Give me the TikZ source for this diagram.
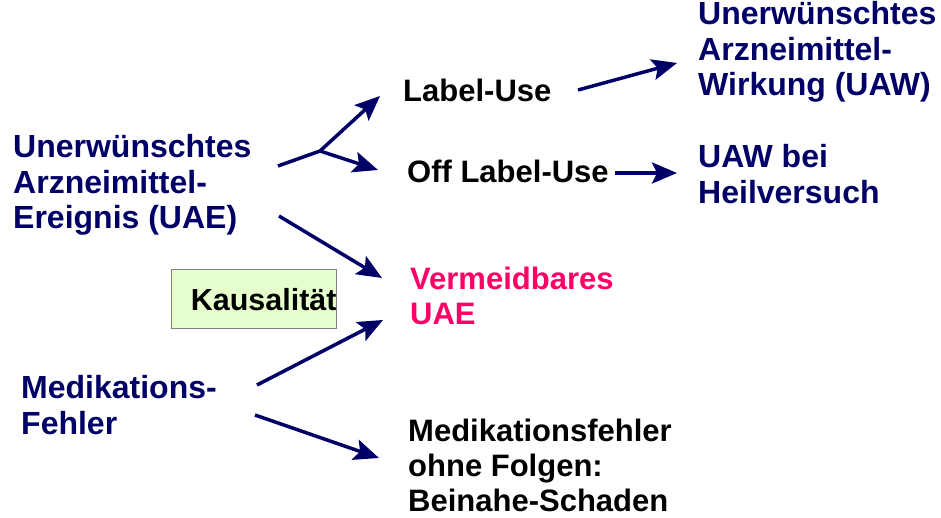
\documentclass[tikz,border=0pt]{standalone}
\usepackage{fontspec}
\setmainfont{Liberation Sans}
\usetikzlibrary{arrows.meta,calc}
\definecolor{navy}{RGB}{0,0,102}
\definecolor{rosa}{RGB}{255,0,102}
\definecolor{hellgruen}{RGB}{230,255,204}

\begin{document}
\begin{tikzpicture}[x=1pt,y=-1pt,
    every node/.style = {anchor=north west, inner sep=0pt, align=left,
      font=\bfseries\fontsize{31}{35}\selectfont},
    blau/.style = {text=navy, font=\bfseries\fontsize{32}{35.5}\selectfont},
    pfeil/.style = {draw=navy, line width=3.5pt, line join=round,
      -{Stealth[length=25pt,width=21pt,inset=5pt]}}]
  \useasboundingbox (0,0) rectangle (941,518);

  % Ursachen links
  \node[blau] (uae) at (13,134.6) {Unerwünschtes\\Arzneimittel-\\Ereignis (UAE)};
  \node[blau] (medfehler) at (21,375.6) {Medikations-\\Fehler};

  % mittlere Spalte
  \node (label) at (403,78.4) {Label-Use};
  \node (offlabel) at (407,159.4) {Off Label-Use};
  \node[text=rosa] (vermeidbar) at (410,266.4) {Vermeidbares\\UAE};
  \node (folgen) at (408,418.4) {Medikationsfehler\\ohne Folgen:\\Beinahe-Schaden};
  \node[draw=gray, line width=1.2pt, fill=hellgruen, text width=165pt,
    align=right, inner xsep=0pt, minimum height=59pt,
    font=\bfseries\fontsize{30.5}{34}\selectfont] (kausal) at (171,269) {Kausalität};

  % rechte Spalte
  \node[blau] (uaw) at (698,1.6) {Unerwünschtes\\Arzneimittel-\\Wirkung (UAW)};
  \node[blau] (heilversuch) at (698,144.6) {UAW bei\\Heilversuch};

  % Pfeile
  \coordinate (gabel) at (320,151);
  \draw[pfeil] ($(uae.north west)+(265,31.4)$) -- (gabel)
    -- ($(label.north west)+(-23,17.6)$);
  \draw[pfeil] (gabel) -- ($(offlabel.north west)+(-29,10.6)$);
  \draw[pfeil] ($(uae.north west)+(266,81.4)$) -- ($(vermeidbar.north west)+(-28,11.6)$);
  \draw[pfeil] ($(label.north west)+(175,11.6)$) -- ($(uaw.north west)+(-21,61.4)$);
  \draw[pfeil] ($(offlabel.north west)+(208,13.6)$) -- ($(heilversuch.north west)+(-21,28.4)$);
  \draw[pfeil] ($(medfehler.north west)+(236,9.4)$) -- ($(vermeidbar.north west)+(-27,53.6)$);
  \draw[pfeil] ($(medfehler.north west)+(234,39.4)$) -- ($(folgen.north west)+(-29,39.6)$);
\end{tikzpicture}
\end{document}
